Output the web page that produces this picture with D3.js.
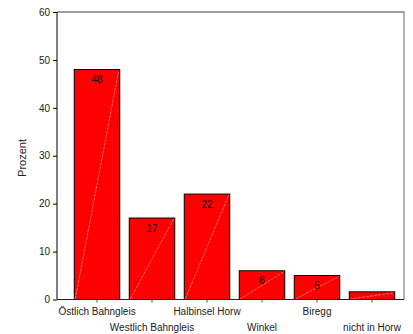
<!DOCTYPE html>
<html>
<head>
<meta charset="utf-8">
<script src="https://cdn.jsdelivr.net/npm/d3@7"></script>
<style>
  html, body { margin: 0; padding: 0; background: #fff; }
  svg { display: block; font-family: "Liberation Sans", Arial, sans-serif; }
</style>
</head>
<body>
<svg id="chart" width="413" height="334"></svg>
<script>
// Wohnort der Befragten, Anteil in Prozent
const categories = ["Östlich Bahngleis", "Westlich Bahngleis", "Halbinsel Horw", "Winkel", "Biregg", "nicht in Horw"];
const percent = [48, 17, 22, 6, 5, 1.6];
const valueLabels = ["48", "17", "22", "6", "5", ""];
const yTicks = [0, 10, 20, 30, 40, 50, 60];

const svg = d3.select("#chart");
const frame = { left: 57, right: 404, top: 12, bottom: 299.5 };

const y = d3.scaleLinear().domain([0, 60]).range([frame.bottom, frame.top]);
const x = d3.scaleBand()
  .domain(categories)
  .range([69.5, 399.5])
  .paddingInner(0.173)
  .paddingOuter(0.0865);

// Rahmen oben und rechts
svg.append("line")
  .attr("x1", frame.left).attr("x2", frame.right + 0.5)
  .attr("y1", frame.top).attr("y2", frame.top)
  .attr("stroke", "#808080").attr("stroke-width", 1.6);
svg.append("line")
  .attr("x1", frame.right).attr("x2", frame.right)
  .attr("y1", frame.top).attr("y2", frame.bottom)
  .attr("stroke", "#808080").attr("stroke-width", 1.2);

// Balken
const bars = svg.append("g");
bars.selectAll("rect")
  .data(categories)
  .join("rect")
  .attr("x", d => x(d))
  .attr("y", (d, i) => y(percent[i]))
  .attr("width", x.bandwidth())
  .attr("height", (d, i) => y(0) - y(percent[i]))
  .attr("fill", "#ff0000")
  .attr("stroke", "#000")
  .attr("stroke-width", 1);

// Diagonale Glanzlinie in jedem Balken
bars.selectAll("line.diag")
  .data(categories)
  .join("line")
  .attr("class", "diag")
  .attr("x1", d => x(d) + 1)
  .attr("y1", y(0) - 0.5)
  .attr("x2", d => x(d) + x.bandwidth() - 1)
  .attr("y2", (d, i) => y(percent[i]) + 1)
  .attr("stroke", "#ff9a9a")
  .attr("stroke-width", 0.7)
  .attr("stroke-dasharray", "3,1");

// Wertbeschriftungen
svg.append("g").selectAll("text")
  .data(categories)
  .join("text")
  .attr("x", d => x(d) + x.bandwidth() / 2)
  .attr("y", (d, i) => y(percent[i]) + 13.5)
  .attr("text-anchor", "middle")
  .attr("font-size", 10)
  .attr("fill", "#000")
  .text((d, i) => valueLabels[i]);

// y-Achse
const yAxis = svg.append("g")
  .attr("transform", `translate(${frame.left},0)`)
  .call(d3.axisLeft(y).tickValues(yTicks).tickSize(4).tickPadding(3).tickFormat(d3.format("d")));
yAxis.select(".domain").attr("stroke", "#000").attr("d", `M0,${frame.top}V${frame.bottom}`);
yAxis.selectAll(".tick line").attr("stroke", "#000");
yAxis.selectAll("text").attr("font-size", 10).attr("fill", "#222")
  .attr("font-family", "Liberation Sans, Arial, sans-serif");

// x-Achse mit versetzten Kategorienamen
const xAxis = svg.append("g")
  .attr("transform", `translate(0,${frame.bottom})`)
  .call(d3.axisBottom(x).tickSize(3).tickPadding(5));
xAxis.select(".domain").attr("stroke", "#222").attr("d", `M${frame.left},0H${frame.right}`);
xAxis.selectAll(".tick line").attr("stroke", "#444");
xAxis.selectAll(".tick text")
  .attr("font-size", 10)
  .attr("fill", "#222")
  .attr("font-family", "Liberation Sans, Arial, sans-serif")
  .attr("dy", (d, i) => i % 2 === 0 ? "0.71em" : "2.31em");

// Achsentitel
svg.append("text")
  .attr("transform", "translate(25.5,158) rotate(-90)")
  .attr("text-anchor", "middle")
  .attr("font-size", 11)
  .attr("fill", "#222")
  .text("Prozent");
</script>
</body>
</html>
